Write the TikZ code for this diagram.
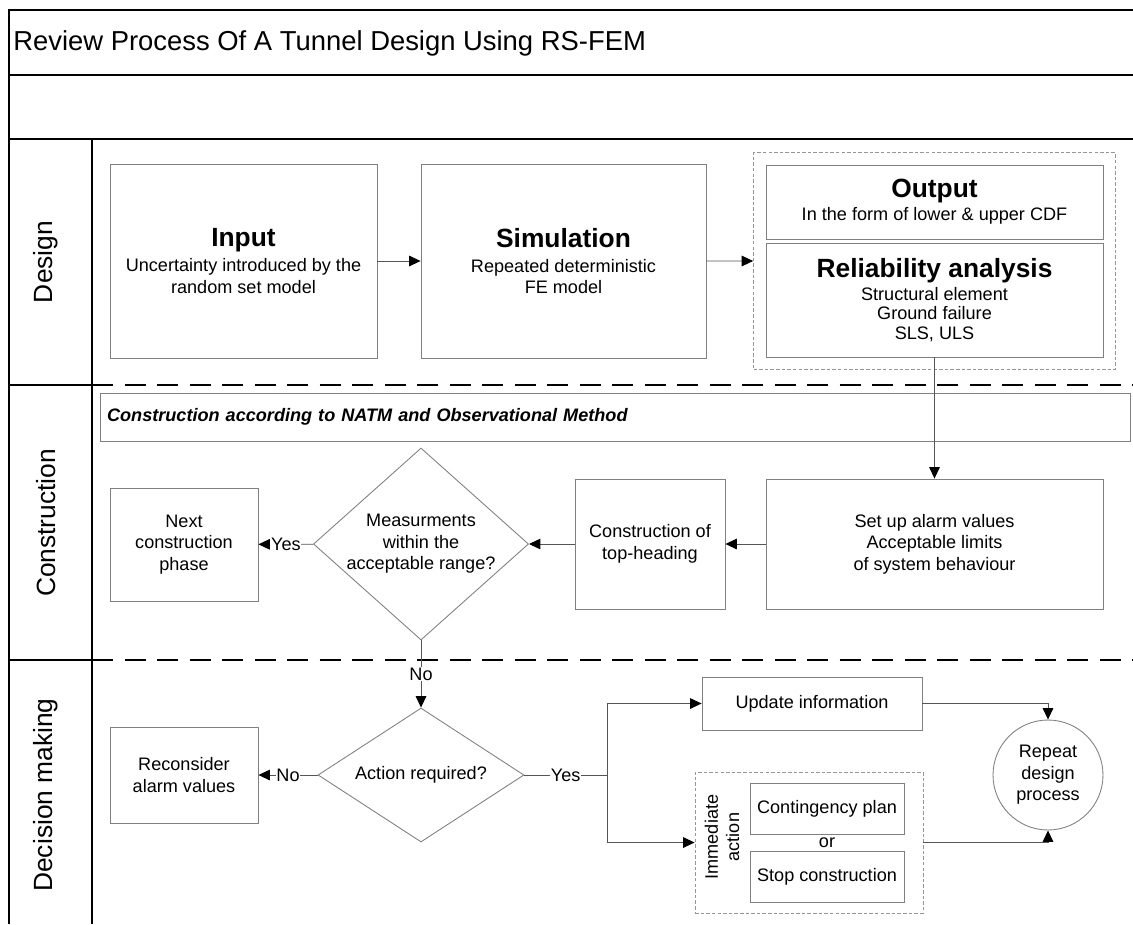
\documentclass[tikz,border=0pt]{standalone}
\usepackage{fontspec}
\setmainfont{Liberation Sans}
\usetikzlibrary{shapes.geometric,arrows.meta,fit}
\definecolor{boxgray}{RGB}{128,128,128}
\definecolor{linegray}{RGB}{85,85,85}
\definecolor{dashgray}{RGB}{150,150,150}
\newcommand{\hd}[1]{{\fontsize{15}{18}\selectfont\bfseries #1}}
\begin{document}
\begin{tikzpicture}[x=0.02cm,y=-0.02cm,
    every node/.style={font=\fontsize{10.3}{12.2}\selectfont, align=center},
    box/.style={draw=boxgray, line width=0.5pt, inner sep=0pt},
    dia/.style={diamond, draw=boxgray, line width=0.5pt, inner sep=0pt},
    grp/.style={draw=dashgray, line width=0.5pt, dash pattern=on 2pt off 1.2pt},
    lane/.style={rotate=90, font=\fontsize{15}{18}\selectfont},
    lbl/.style={fill=white, inner sep=0.5pt},
    frame/.style={line width=1.2pt},
    sep/.style={line width=1.2pt, dash pattern=on 12pt off 6.5pt},
    flow/.style={-{Triangle[length=6.5pt,width=6pt,color=black]}, draw=linegray, line width=0.55pt}]
    \useasboundingbox (0,0) rectangle (1133,924);

    \draw[frame] (1133,10) -- (9,10) -- (9,924);
    \draw[line width=1pt] (9,75) -- (1133,75);
    \draw[frame] (9,139) -- (1133,139);
    \draw[frame] (92,139) -- (92,924);
    \draw[frame] (9,385) -- (92,385);
    \draw[frame] (9,660) -- (92,660);
    \draw[sep] (92,385) -- (1133,385);
    \draw[sep] (92,660) -- (1133,660);

    \node[anchor=west, inner sep=0pt, font=\fontsize{15.6}{18}\selectfont] (title) at (13,43)
        {Review Process Of A Tunnel Design Using RS-FEM};

    \node[lane] (ldesign) at (46,262) {Design};
    \node[lane] (lconstr) at (46,523) {Construction};
    \node[lane] (ldecide) at (46,795) {Decision making};

    \node[box, minimum width=5.34cm, minimum height=3.88cm] (input) at (243.5,261)
        {\hd{Input}\\[2pt] Uncertainty introduced by the\\ random set model};
    \node[box, minimum width=5.7cm, minimum height=3.88cm] (simul) at (563.5,261)
        {\hd{Simulation}\\[2pt] Repeated deterministic\\ FE model};
    \node[box, minimum width=6.74cm, minimum height=1.48cm] (output) at (934.5,202)
        {\hd{Output}\\[1pt] In the form of lower \& upper CDF};
    \node[box, minimum width=6.74cm, minimum height=2.28cm, font=\fontsize{10.3}{11}\selectfont] (reliab) at (934.5,300)
        {\hd{Reliability analysis}\\[2pt] Structural element\\ Ground failure\\ SLS, ULS};
    \node[grp, fit=(output)(reliab), inner sep=0.24cm] (resbox) {};

    \draw[flow] (input) -- (simul);
    \draw[flow] (simul.east) -- (resbox.west);

    \node[box, minimum width=20.62cm, minimum height=0.96cm, text width=20.34cm, align=left,
        inner xsep=0.14cm, font=\fontsize{10.3}{12}\selectfont\bfseries\itshape] (natm) at (615.5,417)
        {Construction according to NATM and Observational Method};
    \node[box, minimum width=2.96cm, minimum height=2.26cm] (nextph) at (184,544.5)
        {Next\\ construction\\ phase};
    \node[dia, aspect=1.12, minimum width=4.12cm, minimum height=3.68cm] (meas) at (421,544)
        {Measurments\\ within the\\ acceptable range?};
    \node[box, minimum width=3cm, minimum height=2.6cm] (tophead) at (650,544)
        {Construction of\\ top-heading};
    \node[box, minimum width=6.74cm, minimum height=2.6cm] (alarm) at (934.5,544)
        {Set up alarm values\\ Acceptable limits\\ of system behaviour};

    \draw[flow] (reliab.south) -- (alarm.north);
    \draw[flow] (alarm) -- (tophead);
    \draw[flow] (tophead) -- (meas);
    \draw[flow] (meas) -- node[lbl] {Yes} (nextph);

    \node[dia, aspect=1.54, minimum width=4.12cm, minimum height=2.68cm] (action) at (421,775)
        {Action required?};
    \node[box, minimum width=2.96cm, minimum height=1.92cm] (recons) at (184,775)
        {Reconsider\\ alarm values};
    \coordinate (split) at (607,775);
    \node[box, minimum width=4.4cm, minimum height=1.06cm] (update) at (812,703.5)
        {Update information};
    \node[grp, minimum width=4.56cm, minimum height=2.82cm] (immbox) at (809,842.5) {};
    \node[rotate=90] (immlbl) at (722,837) {Immediate\\ action};
    \node[box, minimum width=3.08cm, minimum height=1.02cm] (conting) at (827,808.5)
        {Contingency plan};
    \node (orlbl) at (827,843) {or};
    \node[box, minimum width=3.08cm, minimum height=1.02cm] (stopc) at (827,876.5)
        {Stop construction};
    \node[circle, draw=boxgray, line width=0.5pt, minimum size=2.2cm, inner sep=0pt] (repeat) at (1048,775)
        {Repeat\\ design\\ process};

    \draw[flow] (meas) -- node[lbl] {No} (action);
    \draw[flow] (action) -- node[lbl] {No} (recons);
    \draw[draw=linegray, line width=0.55pt] (action) -- node[lbl] {Yes} (split);
    \draw[flow] (split) |- (update);
    \draw[flow] (split) |- (immbox);
    \draw[flow] (update) -| (repeat);
    \draw[flow] (immbox) -| (repeat);
\end{tikzpicture}
\end{document}
